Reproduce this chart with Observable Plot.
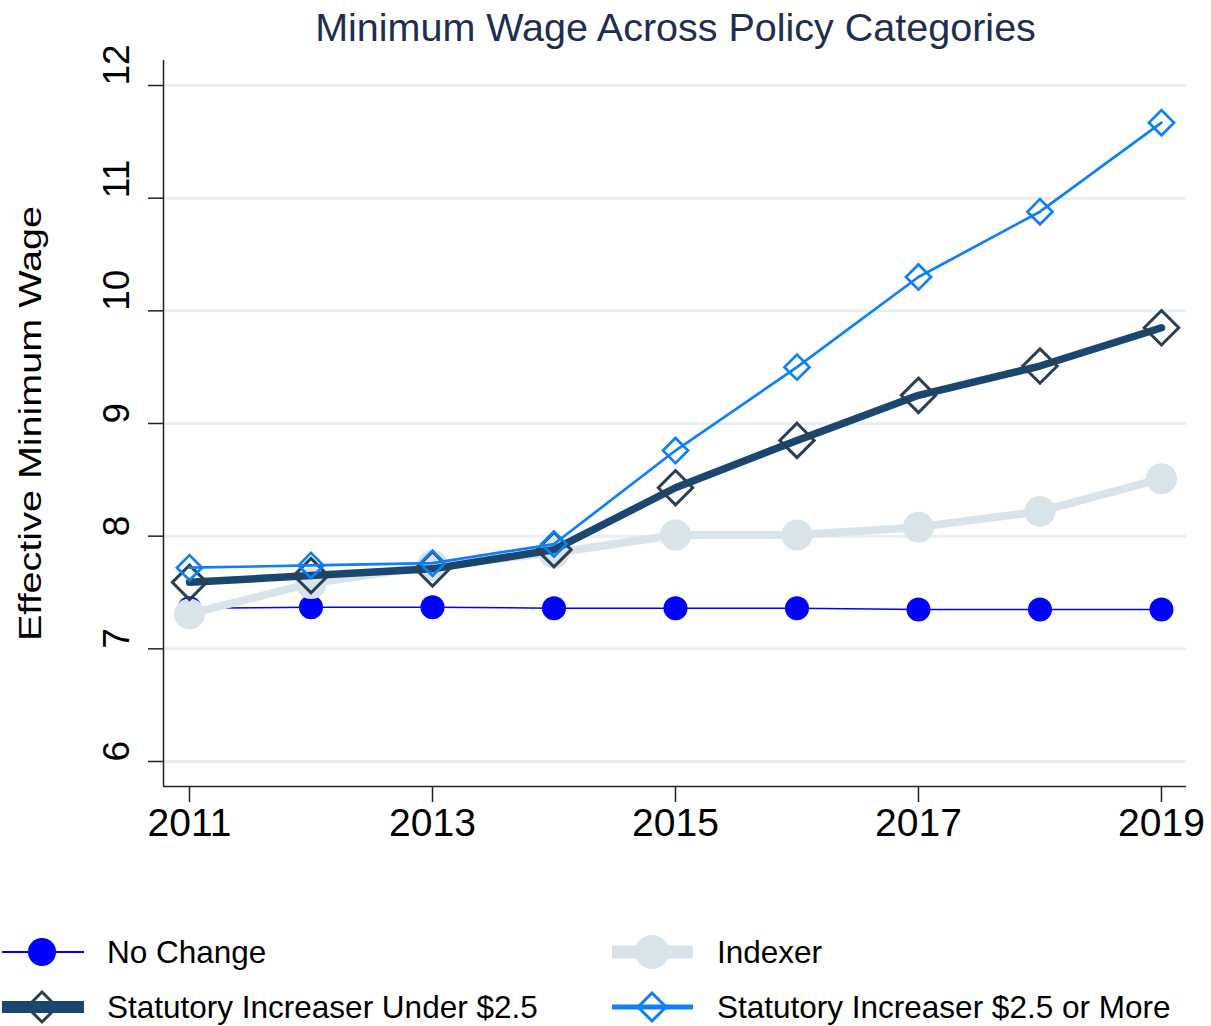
<!DOCTYPE html>
<html>
<head>
<meta charset="utf-8">
<script src="https://cdn.jsdelivr.net/npm/d3@7"></script>
<script src="https://cdn.jsdelivr.net/npm/@observablehq/plot@0.6"></script>
<style>
  html, body { margin: 0; padding: 0; background: #fff; overflow: hidden; }
  body { font-family: "Liberation Sans", Arial, sans-serif; width: 1211px; height: 1026px; position: relative; }
  #title { position: absolute; left: 140px; width: 1071px; top: 7px; text-align: center; font-size: 39.5px; line-height: 40px; color: #1f2d50; white-space: nowrap; }
  #chart { position: absolute; left: 0; top: 50px; }
  .key { position: absolute; }
  .lab { position: absolute; font-size: 31.5px; line-height: 44px; color: #000; white-space: nowrap; }
</style>
</head>
<body>
<div id="title">Minimum Wage Across Policy Categories</div>
<div id="chart"></div>
<div id="legend"></div>
<script>
// ---- data ----
const years = [2011, 2012, 2013, 2014, 2015, 2016, 2017, 2018, 2019];
const noChange = [7.36, 7.37, 7.37, 7.36, 7.36, 7.36, 7.35, 7.35, 7.35];
const indexer = [7.31, 7.58, 7.74, 7.85, 8.01, 8.01, 8.08, 8.22, 8.51];
const statUnder = [7.59, 7.65, 7.71, 7.88, 8.43, 8.85, 9.25, 9.51, 9.85];
const statOver = [7.72, 7.74, 7.76, 7.93, 8.76, 9.50, 10.30, 10.88, 11.67];
const seriesNames = ["No Change", "Statutory Increaser Under $2.5", "Indexer", "Statutory Increaser $2.5 or More"];
const yTicks = [6, 7, 8, 9, 10, 11, 12];
const xTicks = [2011, 2013, 2015, 2017, 2019];
const xDomain = [2010.786, 2019.206];
const yDomain = [5.778, 12.222];
const titleText = "Minimum Wage Across Policy Categories";
const yLabel = "Effective Minimum Wage";

const rows = (vals) => years.map((year, i) => ({year, value: vals[i]}));

const cNo = "#0000ff", cIdx = "#d8e4ea", cUnder = "#1a476f", cUnderMk = "#2b3f52", cOver = "#0f7ff7";

const chart = Plot.plot({
  width: 1211,
  height: 800,
  marginLeft: 163,
  marginRight: 25,
  marginTop: 10,
  marginBottom: 64,
  x: {domain: xDomain, axis: null},
  y: {domain: yDomain, axis: null},
  style: {fontFamily: "'Liberation Sans', Arial, sans-serif", fontSize: "39px", color: "#000", background: "white", overflow: "visible"},
  marks: [
    Plot.gridY(yTicks, {stroke: "#e8eff2", strokeOpacity: 1, strokeWidth: 3}),
    Plot.line(rows(noChange), {x: "year", y: "value", stroke: cNo, strokeWidth: 1.5}),
    Plot.dot(rows(noChange), {x: "year", y: "value", r: 12, fill: cNo}),
    Plot.line(rows(indexer), {x: "year", y: "value", stroke: cIdx, strokeWidth: 8}),
    Plot.dot(rows(indexer), {x: "year", y: "value", r: 15.5, fill: cIdx}),
    Plot.line(rows(statUnder), {x: "year", y: "value", stroke: cUnder, strokeWidth: 7.5}),
    Plot.dot(rows(statUnder), {x: "year", y: "value", symbol: "diamond2", r: 15.5, stroke: cUnderMk, strokeWidth: 3, fill: "none"}),
    Plot.line(rows(statOver), {x: "year", y: "value", stroke: cOver, strokeWidth: 2.7}),
    Plot.dot(rows(statOver), {x: "year", y: "value", symbol: "diamond2", r: 11.3, stroke: cOver, strokeWidth: 2.7, fill: "none"}),
    Plot.ruleX([xDomain[0]], {stroke: "#222", strokeWidth: 1.5}),
    Plot.ruleY([yDomain[0]], {stroke: "#222", strokeWidth: 1.5}),
    Plot.axisY(yTicks, {tickSize: 15, tickFormat: () => "", label: null, strokeWidth: 1.5, stroke: "#222"}),
    Plot.text(yTicks, {y: d => d, frameAnchor: "left", dx: -46.5, rotate: -90, text: d => String(d), fontSize: 37, fill: "#000"}),
    Plot.axisX(xTicks, {tickSize: 16, tickPadding: 6, tickFormat: d => String(d), label: null, strokeWidth: 1.5, stroke: "#222", fill: "#000"}),
    Plot.text([yLabel], {frameAnchor: "left", dx: -133, dy: 217.5, rotate: -90, textAnchor: "start", text: d => d, fontSize: 32, fill: "#000"})
  ]
});
document.getElementById("chart").appendChild(chart);
chart.querySelectorAll("text").forEach(t => {
  if (t.textContent === yLabel) {
    t.setAttribute("textLength", "435");
    t.setAttribute("lengthAdjust", "spacingAndGlyphs");
  }
});

// ---- legend ----
const legend = document.getElementById("legend");
const NS = "http://www.w3.org/2000/svg";
function key(left, rowY, draw) {
  const svg = document.createElementNS(NS, "svg");
  svg.setAttribute("width", 90); svg.setAttribute("height", 44);
  svg.setAttribute("class", "key");
  svg.style.left = left + "px"; svg.style.top = (rowY - 22) + "px";
  svg.innerHTML = draw;
  legend.appendChild(svg);
}
function label(left, rowY, txt) {
  const d = document.createElement("div");
  d.className = "lab"; d.style.left = left + "px"; d.style.top = (rowY - 22) + "px";
  d.textContent = txt; legend.appendChild(d);
}
const diamond = (cx, cy, h) => `M${cx},${cy - h}L${cx + h},${cy}L${cx},${cy + h}L${cx - h},${cy}Z`;
const r1 = 952, r2 = 1007;
key(0, r1, `<line x1="2" x2="84" y1="22" y2="22" stroke="${cNo}" stroke-width="2"/><circle cx="42" cy="22" r="14" fill="${cNo}"/>`);
label(107, r1, seriesNames[0]);
key(0, r2, `<path d="${diamond(42, 22, 15)}" fill="none" stroke="${cUnderMk}" stroke-width="3"/><line x1="2" x2="84" y1="22" y2="22" stroke="${cUnder}" stroke-width="12"/>`);
label(107, r2, seriesNames[1]);
key(610, r1, `<line x1="2" x2="83" y1="22" y2="22" stroke="${cIdx}" stroke-width="13"/><circle cx="42" cy="22" r="17" fill="${cIdx}"/>`);
label(717, r1, seriesNames[2]);
key(610, r2, `<line x1="2" x2="83" y1="22" y2="22" stroke="${cOver}" stroke-width="5"/><path d="${diamond(42, 22, 14)}" fill="none" stroke="${cOver}" stroke-width="3"/>`);
label(717, r2, seriesNames[3]);
</script>
</body>
</html>
